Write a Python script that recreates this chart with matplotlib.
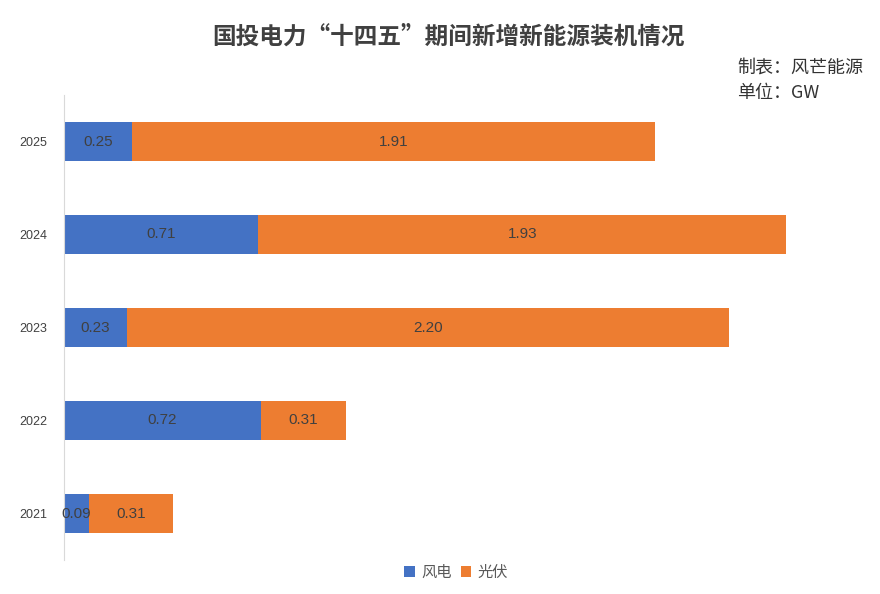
import matplotlib.pyplot as plt
import numpy as np

plt.rcParams['font.family'] = ['Noto Sans CJK SC', 'DejaVu Sans']

years = ['2021', '2022', '2023', '2024', '2025']
wind = [0.09, 0.72, 0.23, 0.71, 0.25]
solar = [0.31, 0.31, 2.20, 1.93, 1.91]

fig = plt.figure(figsize=(8.8, 5.94), dpi=100)
ax = fig.add_axes([64/880, 34/594, (850-64)/880, 465/594])

y = np.arange(len(years))
h = 0.41
b1 = ax.barh(y, wind, height=h, color='#4472C4', label='风电')
b2 = ax.barh(y, solar, height=h, left=wind, color='#ED7D31', label='光伏')

for bars in (b1, b2):
    ax.bar_label(bars, labels=['%.2f' % v for v in bars.datavalues],
                 label_type='center', fontsize=11, color='#404040',
                 family=['Liberation Sans', 'DejaVu Sans'])

ax.set_xlim(0, (850-64)/273.6)
ax.set_ylim(-0.5, 4.5)
ax.set_yticks(y)
ax.set_yticklabels(years, fontsize=9, color='#404040', family=['Liberation Sans', 'DejaVu Sans'])
ax.set_xticks([])
for s in ['top', 'right', 'bottom']:
    ax.spines[s].set_visible(False)
ax.spines['left'].set_color('#d9d9d9')
ax.tick_params(axis='y', length=0, pad=12)

fig.text(448/880, 1 - 37/594, '国投电力“十四五”期间新增新能源装机情况', ha='center', va='center',
         fontsize=17, fontweight='bold', color='#404040')
fig.text(737/880, 1 - 68/594, '制表：风芒能源', ha='left', va='center', fontsize=13, color='#333333')
fig.text(737/880, 1 - 93/594, '单位：GW', ha='left', va='center', fontsize=13, color='#333333')

fig.legend(handles=[b1, b2], loc='center', bbox_to_anchor=(456/880, 1 - 572/594), ncol=2,
           frameon=False, fontsize=11, handlelength=0.7, handleheight=0.7,
           handletextpad=0.4, columnspacing=0.6, labelcolor='#595959')

fig.savefig('out.png', dpi=100)
